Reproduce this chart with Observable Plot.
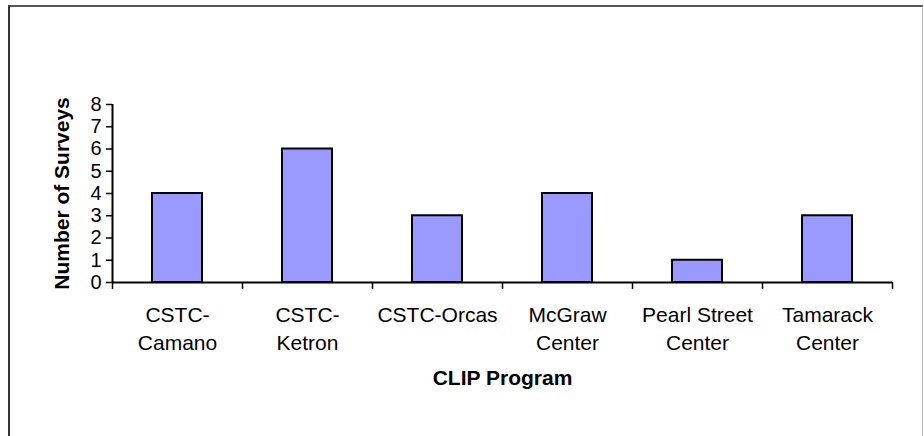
<!DOCTYPE html>
<html>
<head>
<meta charset="utf-8">
<script src="https://cdn.jsdelivr.net/npm/d3@7"></script>
<script src="https://cdn.jsdelivr.net/npm/@observablehq/plot@0.6"></script>
<style>
  html, body { margin: 0; padding: 0; background: #fff; }
  #wrap { position: relative; width: 924px; height: 436px; overflow: hidden; }
  #frame { position: absolute; left: 8px; top: 5px; width: 912px; height: 440px;
           border-left: 2px solid #333; border-top: 2px solid #555; border-right: 1px solid #bbb; }
  #chart { position: absolute; left: 0; top: 0; }
</style>
</head>
<body>
<div id="wrap"><div id="frame"></div><div id="chart"></div></div>
<script>
const categories = ["CSTC-\nCamano", "CSTC-\nKetron", "CSTC-Orcas", "McGraw\nCenter", "Pearl Street\nCenter", "Tamarack\nCenter"];
const values = [4, 6, 3, 4, 1, 3];
const yTicks = [0, 1, 2, 3, 4, 5, 6, 7, 8];
const xTitle = "CLIP Program";
const yTitle = "Number of Surveys";

const data = categories.map((c, i) => ({category: c, value: values[i], i}));
const boundaries = d3.range(categories.length + 1);

const plot = Plot.plot({
  width: 924,
  height: 436,
  marginLeft: 112,
  marginRight: 32,
  marginTop: 104,
  marginBottom: 154,
  style: {fontFamily: "'Liberation Sans', Arial, sans-serif", fontSize: "20px", color: "#000", background: "transparent"},
  x: {type: "linear", domain: [0, categories.length], axis: null},
  y: {domain: [0, 8], axis: null},
  marks: [
    Plot.rectY(data, {x1: d => d.i, x2: d => d.i + 1, y: "value", insetLeft: 40, insetRight: 40,
      fill: "#9999FF", stroke: "#000", strokeWidth: 2}),
    Plot.axisY({ticks: yTicks, tickSize: 6, tickPadding: 5, anchor: "left", label: null,
      stroke: "#000", strokeWidth: 1.5, fill: "#000", fontSize: 20}),
    Plot.axisX({ticks: boundaries, tickSize: 7, tickFormat: () => "", anchor: "bottom", label: null,
      stroke: "#000", strokeWidth: 1.5}),
    Plot.ruleX([0], {stroke: "#000", strokeWidth: 2}),
    Plot.ruleY([0], {stroke: "#000", strokeWidth: 2}),
    Plot.text(data, {x: d => d.i + 0.5, y: 0, text: "category", lineAnchor: "top", dy: 19,
      lineHeight: 1.35, fill: "#000", fontSize: 21}),
    Plot.text([xTitle], {frameAnchor: "bottom", text: d => d, lineAnchor: "top", dy: 88,
      fontWeight: "bold", fill: "#000", fontSize: 21}),
    Plot.text([yTitle], {frameAnchor: "left", text: d => d, rotate: -90, textAnchor: "middle",
      lineAnchor: "middle", dx: -50, fontWeight: "bold", fill: "#000", fontSize: 21})
  ]
});
document.getElementById("chart").appendChild(plot);
</script>
</body>
</html>
